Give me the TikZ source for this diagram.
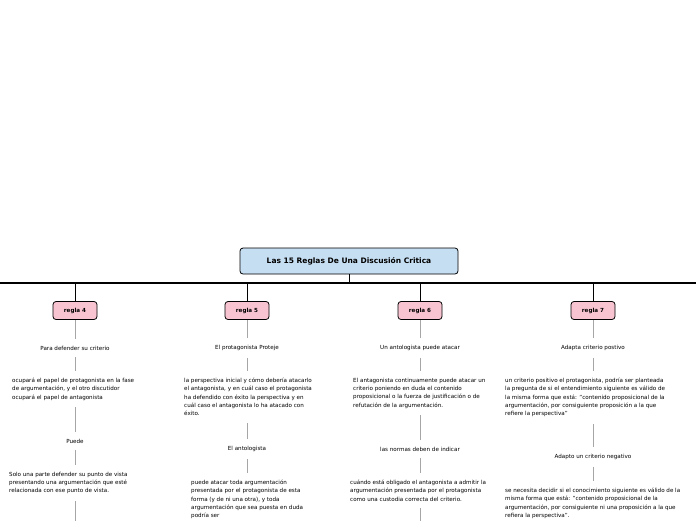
\documentclass[tikz,border=0pt]{standalone}
\usepackage{fontspec}
\setmainfont{DejaVu Sans}
\definecolor{titlefill}{RGB}{198,222,241}
\definecolor{rulefill}{RGB}{248,196,210}
\begin{document}
\begin{tikzpicture}[x=1pt,y=-1pt,
  mainbox/.style={draw,thick,rounded corners=3pt,fill=titlefill,minimum width=218,minimum height=26,font=\fontsize{7.5}{9}\selectfont\bfseries},
  rulebox/.style={draw,thick,rounded corners=3pt,fill=rulefill,minimum width=44,minimum height=18,font=\fontsize{5.6}{7}\selectfont\bfseries},
  lbl/.style={font=\fontsize{5.6}{8.2}\selectfont,inner sep=1pt},
  blk/.style={lbl,align=flush left,anchor=north west},
  link/.style={gray!70,shorten <=6pt,shorten >=6pt}]
\useasboundingbox (0,0) rectangle (696,520);
\fill[white] (0,0) rectangle (696,520);
\node[mainbox] (title) at (349,261) {Las 15 Reglas De Una Discusión Critica};
\draw[very thick] (0,283) -- (696,283);
\draw[thick] (title.south) -- (349,283);
% reglas
\foreach \x/\n in {75/4,247/5,420/6,593/7}{
  \node[rulebox] (r\n) at (\x,310.5) {regla \n};
  \draw[thick] (\x,283) -- (r\n.north);
}
% regla 4
\node[lbl] (a1) at (75,348) {Para defender su criterio};
\node[blk,text width=128] (a2) at (11,377) {ocupará el papel de protagonista en la fase de argumentación, y el otro discutidor ocupará el papel de antagonista};
\node[lbl] (a3) at (75,441) {Puede};
\node[blk,text width=128] (a4) at (8,471) {Solo una parte defender su punto de vista presentando una argumentación que esté relacionada con ese punto de vista.};
\coordinate (a5) at (75,535);
\draw[link,shorten <=0pt] (r4) -- (a1);
\draw[link] (a1) -- (a1 |- a2.north);
\draw[link] (a3 |- a2.south) -- (a3);
\draw[link] (a3) -- (a3 |- a4.north);
\draw[link] (a5 |- a4.south) -- (a5);
% regla 5
\node[lbl] (b1) at (247,348) {El protagonista Proteje};
\node[blk,text width=128] (b2) at (183,377) {la perspectiva inicial y cómo debería atacarlo el antagonista, y en cuál caso el protagonista ha defendido con éxito la perspectiva y en cuál caso el antagonista lo ha atacado con éxito.};
\node[lbl] (b3) at (247,449) {El antologista};
\node[blk,text width=118] (b4) at (190,479) {puede atacar toda argumentación presentada por el protagonista de esta forma (y de ni una otra), y toda argumentación que sea puesta en duda podría ser};
\draw[link,shorten <=0pt] (r5) -- (b1);
\draw[link] (b1) -- (b1 |- b2.north);
\draw[link] (b3 |- b2.south) -- (b3);
\draw[link] (b3) -- (b3 |- b4.north);
% regla 6
\node[lbl] (c1) at (420,348) {Un antologista puede atacar};
\node[blk,text width=136] (c2) at (352,377) {El antagonista continuamente puede atacar un criterio poniendo en duda el contenido proposicional o la fuerza de justificación o de refutación de la argumentación.};
\node[lbl] (c3) at (420,449) {las normas deben de indicar};
\node[blk,text width=140] (c4) at (349,479) {cuándo está obligado el antagonista a admitir la argumentación presentada por el protagonista como una custodia correcta del criterio.};
\coordinate (c5) at (420,535);
\draw[link,shorten <=0pt] (r6) -- (c1);
\draw[link] (c1) -- (c1 |- c2.north);
\draw[link] (c3 |- c2.south) -- (c3);
\draw[link] (c3) -- (c3 |- c4.north);
\draw[link] (c5 |- c4.south) -- (c5);
% regla 7
\node[lbl] (d1) at (593,348) {Adapta criterio postivo};
\node[blk,text width=164] (d2) at (504,377) {un criterio positivo el protagonista, podría ser planteada la pregunta de si el entendimiento siguiente es válido de la misma forma que está: "contenido proposicional de la argumentación, por consiguiente proposición a la que refiere la perspectiva"};
\node[lbl] (d3) at (593,457) {Adapto un criterio negativo};
\node[blk,text width=176] (d4) at (504,487) {se necesita decidir si el conocimiento siguiente es válido de la misma forma que está: "contenido proposicional de la argumentación, por consiguiente ni una proposición a la que refiera la perspectiva".};
\draw[link,shorten <=0pt] (r7) -- (d1);
\draw[link] (d1) -- (d1 |- d2.north);
\draw[link] (d3 |- d2.south) -- (d3);
\draw[link] (d3) -- (d3 |- d4.north);
\end{tikzpicture}
\end{document}
